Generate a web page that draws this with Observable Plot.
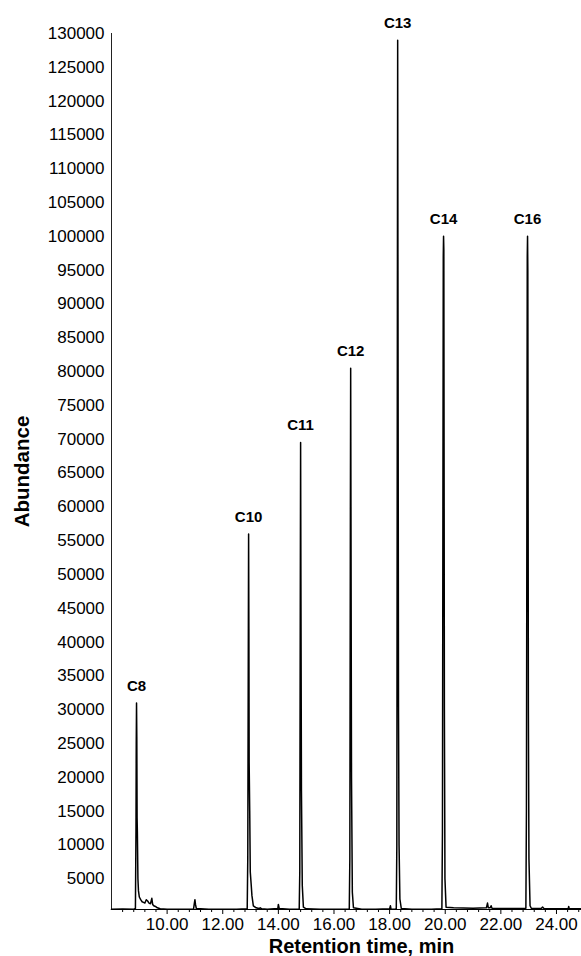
<!DOCTYPE html>
<html>
<head>
<meta charset="utf-8">
<script src="https://cdn.jsdelivr.net/npm/d3@7"></script>
<script src="https://cdn.jsdelivr.net/npm/@observablehq/plot@0.6"></script>
<style>
  html, body { margin: 0; padding: 0; background: #fff; }
  #chart svg { display: block; }
</style>
</head>
<body>
<div id="chart"></div>
<script>
// Chromatogram trace (retention time in min, abundance)
const times = [
  8.00, 8.40, 8.80, 8.86, 8.88, 8.89, 8.90, 8.91, 8.92, 8.93, 8.95, 8.97,
  9.00, 9.05, 9.10, 9.15, 9.20, 9.25, 9.30, 9.35, 9.40, 9.45, 9.48, 9.52,
  9.58, 9.65, 9.75, 10.00, 10.50, 10.95, 10.98, 11.00, 11.02, 11.05, 11.50,
  12.00, 12.50, 12.88, 12.90, 12.92, 12.93, 12.94, 12.95, 12.97, 12.99,
  13.02, 13.05, 13.10, 13.20, 13.30, 13.35, 13.40, 13.60, 13.98, 14.00,
  14.03, 14.40, 14.75, 14.77, 14.79, 14.80, 14.81, 14.83, 14.86, 14.90,
  15.00, 15.50, 16.00, 16.55, 16.57, 16.59, 16.60, 16.61, 16.63, 16.66,
  16.70, 17.00, 17.50, 18.00, 18.03, 18.05, 18.20, 18.24, 18.26, 18.28,
  18.29, 18.30, 18.32, 18.34, 18.37, 18.42, 18.80, 19.50, 19.88, 19.90,
  19.93, 19.94, 19.95, 19.97, 19.99, 20.03, 20.30, 21.00, 21.48, 21.52,
  21.55, 21.62, 21.65, 21.68, 22.50, 22.90, 22.92, 22.95, 22.96, 22.97,
  22.99, 23.01, 23.05, 23.10, 23.45, 23.50, 23.55, 24.00, 24.42, 24.44,
  24.46, 24.90
];
const abundance = [
  500, 520, 500, 600, 12000, 25000, 31000, 26000, 14000, 12000, 5000, 3200,
  2300, 1900, 1600, 1500, 1400, 1900, 1700, 1400, 1300, 2100, 1200, 1000,
  900, 700, 550, 500, 500, 500, 1400, 1900, 1200, 600, 500,
  500, 500, 550, 8000, 40000, 56000, 42000, 22000, 15000, 6000,
  4300, 2500, 1000, 700, 600, 700, 550, 500, 600, 1200,
  600, 500, 520, 6000, 50000, 69500, 50000, 18000, 4000, 800,
  550, 500, 500, 520, 8000, 60000, 80500, 60000, 20000, 3000,
  700, 500, 500, 550, 1000, 500, 500, 550, 10000, 90000,
  129000, 95000, 30000, 10000, 2000, 600, 500, 500, 550, 12000,
  97000, 100000, 98000, 30000, 5000, 800, 700, 650, 700, 1400,
  700, 700, 1000, 650, 600, 620, 15000, 97000, 100000, 95000,
  30000, 8000, 1000, 600, 600, 800, 600, 550, 550, 900,
  550, 550
];

// Peak labels
const peakNames = ["C8", "C10", "C11", "C12", "C13", "C14", "C16"];
const peakTimes = [8.90, 12.93, 14.80, 16.60, 18.29, 19.94, 22.96];
const peakHeights = [31000, 56000, 69500, 80500, 129000, 100000, 100000];

// Axis ticks
const yTicks = [5000, 10000, 15000, 20000, 25000, 30000, 35000, 40000, 45000, 50000,
  55000, 60000, 65000, 70000, 75000, 80000, 85000, 90000, 95000, 100000,
  105000, 110000, 115000, 120000, 125000, 130000];
const xTicks = [10, 12, 14, 16, 18, 20, 22, 24];
const xMinorTicks = [8.4, 8.8, 9.2, 9.6, 10.4, 10.8, 11.2, 11.6, 12.4, 12.8, 13.2, 13.6,
  14.4, 14.8, 15.2, 15.6, 16.4, 16.8, 17.2, 17.6, 18.4, 18.8, 19.2, 19.6,
  20.4, 20.8, 21.2, 21.6, 22.4, 22.8, 23.2, 23.6, 24.4, 24.8];

const trace = times.map((t, i) => ({t, a: abundance[i]}));
const peaks = peakNames.map((n, i) => ({n, t: peakTimes[i], a: peakHeights[i]}));

const plot = Plot.plot({
  width: 581,
  height: 956,
  marginLeft: 111,
  marginRight: 0,
  marginTop: 33,
  marginBottom: 47,
  style: {fontFamily: "'Liberation Sans', Arial, Helvetica, sans-serif", color: "#000", background: "#fff"},
  x: {domain: [8.0, 24.9]},
  y: {domain: [450, 130000]},
  marks: [
    Plot.axisY({ticks: yTicks, tickSize: 0, tickPadding: 7, fontSize: 17,
      tickFormat: d => String(d), label: null}),
    Plot.text(["Abundance"], {frameAnchor: "left", dx: -89, rotate: -90,
      fontSize: 20.5, fontWeight: "bold", textAnchor: "middle", lineAnchor: "middle"}),
    Plot.axisX({ticks: xMinorTicks, tickSize: 3, tickFormat: () => "", label: null, strokeWidth: 1}),
    Plot.axisX({ticks: xTicks, tickSize: 5, tickPadding: 3, fontSize: 17,
      tickFormat: d => d.toFixed(2), label: null}),
    Plot.text(["Retention time, min"], {frameAnchor: "bottom", dx: 15, dy: 37,
      fontSize: 20, fontWeight: "bold", textAnchor: "middle", lineAnchor: "middle"}),
    Plot.frame({anchor: "left", stroke: "#222", strokeWidth: 1}),
    Plot.frame({anchor: "bottom", stroke: "#000", strokeWidth: 1.2}),
    Plot.line(trace, {x: "t", y: "a", stroke: "#000", strokeWidth: 1.5, curve: "linear"}),
    Plot.text(peaks, {x: "t", y: "a", text: "n", dy: -17, fontSize: 15, fontWeight: "bold",
      textAnchor: "middle", lineAnchor: "middle"})
  ]
});
document.getElementById("chart").appendChild(plot);
</script>
</body>
</html>
